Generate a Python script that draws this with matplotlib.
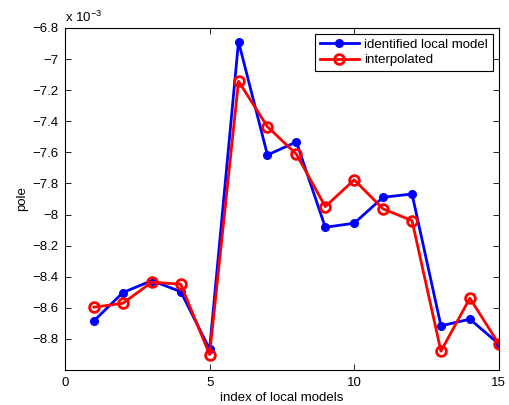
import numpy as np
import matplotlib
matplotlib.use('Agg')
import matplotlib.pyplot as plt
from matplotlib.ticker import FuncFormatter

plt.rcParams['font.family'] = ['Liberation Sans', 'DejaVu Sans']

# data (pole values, units of 1e-3)
idx = np.arange(1, 16)
identified = np.array([-8.684, -8.502, -8.425, -8.496, -8.866, -6.888, -7.617, -7.533,
                       -8.082, -8.056, -7.889, -7.868, -8.716, -8.673, -8.832]) * 1e-3
interpolated = np.array([-8.596, -8.571, -8.435, -8.448, -8.901, -7.143, -7.435, -7.612,
                         -7.949, -7.777, -7.964, -8.039, -8.879, -8.538, -8.832]) * 1e-3
y_ticks = np.arange(-8.8, -6.79, 0.2) * 1e-3
x_ticks = [0, 5, 10, 15]

fig = plt.figure(figsize=(5.1, 4.05), dpi=100)
ax = fig.add_axes([0.1275, 0.0864, 0.8505, 0.8446])

ax.plot(idx, identified, '-o', color='blue', lw=2, ms=5.5, mfc='blue', mec='blue',
        label='identified local model')
ax.plot(idx, interpolated, '-o', color='red', lw=2, ms=7, mfc='none', mec='red', mew=2,
        label='interpolated')

ax.set_xlim(0, 15)
ax.set_ylim(-9.0e-3, -6.8e-3)
ax.set_xticks(x_ticks)
ax.set_yticks(y_ticks)
ax.yaxis.set_major_formatter(FuncFormatter(lambda v, p: ('%g' % round(v * 1e3, 1)).replace('-', '\u2212')))
ax.tick_params(direction='in', top=True, right=True, labelsize=9.5, length=4, width=0.6, pad=5)
for s in ax.spines.values():
    s.set_linewidth(0.8)

ax.set_xlabel('index of local models', fontsize=9.5, labelpad=2)
ax.set_ylabel('pole', fontsize=9.5, labelpad=3)
ax.text(0, 1.008, 'x 10$^{\\mathregular{\u22123}}$', transform=ax.transAxes, fontsize=9.5,
        ha='left', va='bottom')

leg = ax.legend(loc='upper right', fontsize=9.5, fancybox=False, edgecolor='black',
                framealpha=1, borderaxespad=0.45, handlelength=3.0, borderpad=0.35,
                labelspacing=0.25, handletextpad=0.4)
leg.get_frame().set_linewidth(0.8)

plt.savefig('out.png', dpi=100)
